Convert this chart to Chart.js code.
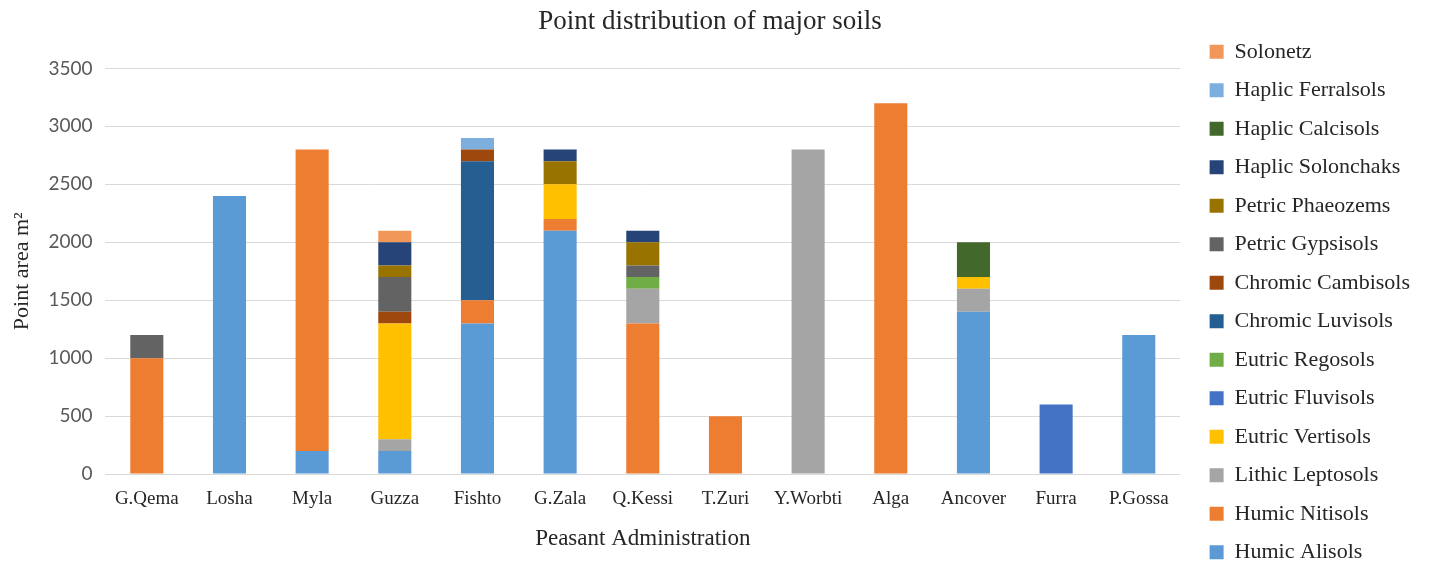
<!DOCTYPE html>
<html>
<head>
<meta charset="utf-8">
<title>Point distribution of major soils</title>
<script src="https://cdn.jsdelivr.net/npm/chart.js@4"></script>
<style>
  html, body { margin: 0; padding: 0; background: #fff; overflow: hidden; }
  #wrap { position: relative; width: 1434px; height: 604px; }
</style>
</head>
<body>
<div id="wrap"><canvas id="soilChart"></canvas></div>
<script>
// Peasant administrations along the x axis
const kebeles = ['G.Qema', 'Losha', 'Myla', 'Guzza', 'Fishto', 'G.Zala', 'Q.Kessi',
                 'T.Zuri', 'Y.Worbti', 'Alga', 'Ancover', 'Furra', 'P.Gossa'];

// point area (m²) of each soil unit per administration, bottom of stack first
const humicAlisols      = [0, 2400, 200, 200, 1300, 2100, 0, 0, 0, 0, 1400, 0, 1200];
const humicNitisols     = [1000, 0, 2600, 0, 200, 100, 1300, 500, 0, 3200, 0, 0, 0];
const lithicLeptosols   = [0, 0, 0, 100, 0, 0, 300, 0, 2800, 0, 200, 0, 0];
const eutricVertisols   = [0, 0, 0, 1000, 0, 300, 0, 0, 0, 0, 100, 0, 0];
const eutricFluvisols   = [0, 0, 0, 0, 0, 0, 0, 0, 0, 0, 0, 600, 0];
const eutricRegosols    = [0, 0, 0, 0, 0, 0, 100, 0, 0, 0, 0, 0, 0];
const chromicLuvisols   = [0, 0, 0, 0, 1200, 0, 0, 0, 0, 0, 0, 0, 0];
const chromicCambisols  = [0, 0, 0, 100, 100, 0, 0, 0, 0, 0, 0, 0, 0];
const petricGypsisols   = [200, 0, 0, 300, 0, 0, 100, 0, 0, 0, 0, 0, 0];
const petricPhaeozems   = [0, 0, 0, 100, 0, 200, 200, 0, 0, 0, 0, 0, 0];
const haplicSolonchaks  = [0, 0, 0, 200, 0, 100, 100, 0, 0, 0, 0, 0, 0];
const haplicCalcisols   = [0, 0, 0, 0, 0, 0, 0, 0, 0, 0, 300, 0, 0];
const haplicFerralsols  = [0, 0, 0, 0, 100, 0, 0, 0, 0, 0, 0, 0, 0];
const solonetz          = [0, 0, 0, 100, 0, 0, 0, 0, 0, 0, 0, 0, 0];

const yTicks = [0, 500, 1000, 1500, 2000, 2500, 3000, 3500];

const serif = '"Liberation Serif", "Times New Roman", serif';

function soil(label, data, color) {
    return {
        label: label,
        data: data,
        backgroundColor: color,
        borderWidth: 0,
        categoryPercentage: 0.8,
        barPercentage: 0.5
    };
}

const datasets = [
    soil('Humic Alisols', humicAlisols, '#5B9BD5'),
    soil('Humic Nitisols', humicNitisols, '#ED7D31'),
    soil('Lithic Leptosols', lithicLeptosols, '#A5A5A5'),
    soil('Eutric Vertisols', eutricVertisols, '#FFC000'),
    soil('Eutric Fluvisols', eutricFluvisols, '#4472C4'),
    soil('Eutric Regosols', eutricRegosols, '#70AD47'),
    soil('Chromic Luvisols', chromicLuvisols, '#255E91'),
    soil('Chromic Cambisols', chromicCambisols, '#9E480E'),
    soil('Petric Gypsisols', petricGypsisols, '#636363'),
    soil('Petric Phaeozems', petricPhaeozems, '#997300'),
    soil('Haplic Solonchaks', haplicSolonchaks, '#264478'),
    soil('Haplic Calcisols', haplicCalcisols, '#43682B'),
    soil('Haplic Ferralsols', haplicFerralsols, '#7CAFDD'),
    soil('Solonetz', solonetz, '#F1975A')
];

const ctx = document.getElementById('soilChart').getContext('2d');

const soilChart = new Chart(ctx, {
    type: 'bar',
    data: {
        labels: kebeles,
        datasets: datasets
    },
    options: {
        responsive: true,
        maintainAspectRatio: false,
        animation: false,
        layout: {
            padding: { right: 14 }
        },
        plugins: {
            title: {
                display: true,
                text: 'Point distribution of major soils',
                color: '#262626',
                font: { family: serif, size: 27, weight: 'normal' },
                padding: { top: 6, bottom: 30 }
            },
            legend: {
                position: 'right',
                reverse: true,
                labels: {
                    color: '#262626',
                    font: { family: serif, size: 22 },
                    boxWidth: 14,
                    boxHeight: 14,
                    padding: 16.5
                }
            },
            tooltip: { enabled: false }
        },
        scales: {
            x: {
                stacked: true,
                grid: { display: false, drawTicks: false },
                border: { display: false },
                ticks: {
                    color: '#262626',
                    font: { family: serif, size: 19 },
                    padding: 14,
                    maxRotation: 0,
                    autoSkip: false
                },
                title: {
                    display: true,
                    text: 'Peasant Administration',
                    color: '#262626',
                    font: { family: serif, size: 23 },
                    padding: { top: 0, bottom: 51.5 }
                }
            },
            y: {
                stacked: true,
                min: 0,
                max: 3500,
                afterBuildTicks: function(axis) {
                    axis.ticks = yTicks.map(v => ({ value: v }));
                },
                grid: { color: '#D9D9D9', lineWidth: 1, drawTicks: false },
                border: { display: false },
                ticks: {
                    color: '#595959',
                    font: { family: 'Lato, "Open Sans", sans-serif', size: 19 },
                    padding: 13,
                    callback: function(value) {
                        return String(value);
                    }
                },
                title: {
                    display: true,
                    text: 'Point area m²',
                    color: '#262626',
                    font: { family: serif, size: 22 },
                    padding: { top: 9, bottom: 0 }
                }
            },
            // empty strip between the plot and the legend
            gap: {
                type: 'linear',
                position: 'right',
                display: true,
                grid: { display: false },
                border: { display: false },
                ticks: { display: false },
                afterFit: function(scale) {
                    scale.width = 13;
                }
            }
        }
    }
});
</script>
</body>
</html>
